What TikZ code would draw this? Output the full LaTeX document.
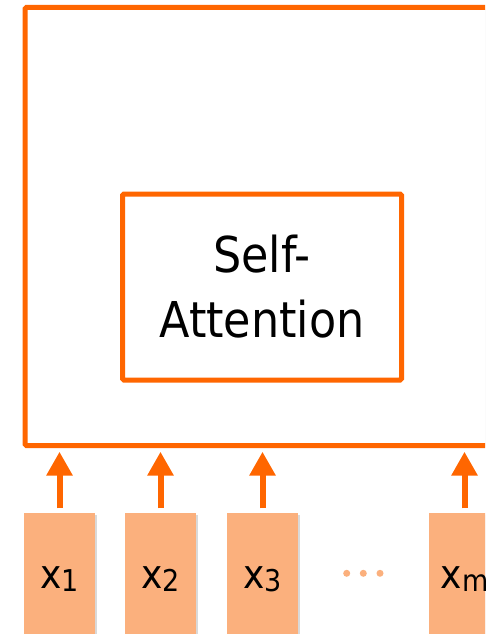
\documentclass[tikz,border=0pt]{standalone}
\usepackage{fontspec}
\setmainfont{DejaVu Sans}
\newfontfamily\labfont[FakeStretch=0.9]{DejaVu Sans}
\usetikzlibrary{arrows.meta,shadows}
\definecolor{dorange}{RGB}{255,102,0}
\definecolor{lorange}{RGB}{251,176,125}
\tikzset{
  softshadow/.style={drop shadow={shadow xshift=1.5pt,shadow yshift=-1.5pt,opacity=0.15,fill=black}},
  outerbox/.style={draw=dorange,line width=5pt,fill=white,rounded corners=1.5pt,outer sep=0pt,anchor=north west,softshadow},
  innerbox/.style={draw=dorange,line width=5pt,fill=white,rounded corners=1.5pt,outer sep=0pt,anchor=north west,softshadow,
    align=center,font=\labfont\fontsize{49.4}{65}\selectfont},
  inbox/.style={fill=lorange,minimum width=71pt,minimum height=140pt,outer sep=0pt,anchor=north west,inner sep=0pt,softshadow},
  intext/.style={anchor=base,inner sep=0pt,font=\labfont\fontsize{40}{40}\selectfont},
  arr/.style={draw=dorange,line width=6pt,-{Triangle[width=25pt,length=24pt]},shorten <=5pt,shorten >=6.2pt},
  dotc/.style={circle,fill=lorange,minimum size=7pt,inner sep=0pt}
}
\newcommand{\subd}[1]{\raisebox{-3pt}{\fontsize{30}{30}\selectfont #1}}
\begin{document}
\begin{tikzpicture}[x=1pt,y=-1pt]
\useasboundingbox (0,0) rectangle (485,634);
\clip (0,0) rectangle (485,634);
\fill[white] (0,0) rectangle (485,634);
% outer box
\node[outerbox,minimum width=480pt,minimum height=438pt] (outer) at (25,7.5) {};
% self-attention box
\node[innerbox,minimum width=279pt,minimum height=186pt] (sa) at (122.5,194) {Self-\\Attention};
% input boxes
\node[inbox] (x1) at (24,513.3) {};
\node[inbox] (x2) at (125,513.3) {};
\node[inbox] (x3) at (227,513.3) {};
\node[inbox] (xm) at (429,513.3) {};
% labels
\node[intext] (t1) at (59.5,588) {x\subd{1}};
\node[intext] (t2) at (160.5,588) {x\subd{2}};
\node[intext] (t3) at (262.5,588) {x\subd{3}};
\node[intext] (tm) at (464.5,588) {x\subd{m}};
% dots
\node[dotc] (d1) at (346.7,573.3) {};
\node[dotc] (d2) at (363.3,573.3) {};
\node[dotc] (d3) at (380,573.3) {};
% arrows
\draw[arr] (x1.north) -- (x1.north |- outer.south);
\draw[arr] (x2.north) -- (x2.north |- outer.south);
\draw[arr] (x3.north) -- (x3.north |- outer.south);
\draw[arr] (xm.north) -- (xm.north |- outer.south);
\end{tikzpicture}
\end{document}
